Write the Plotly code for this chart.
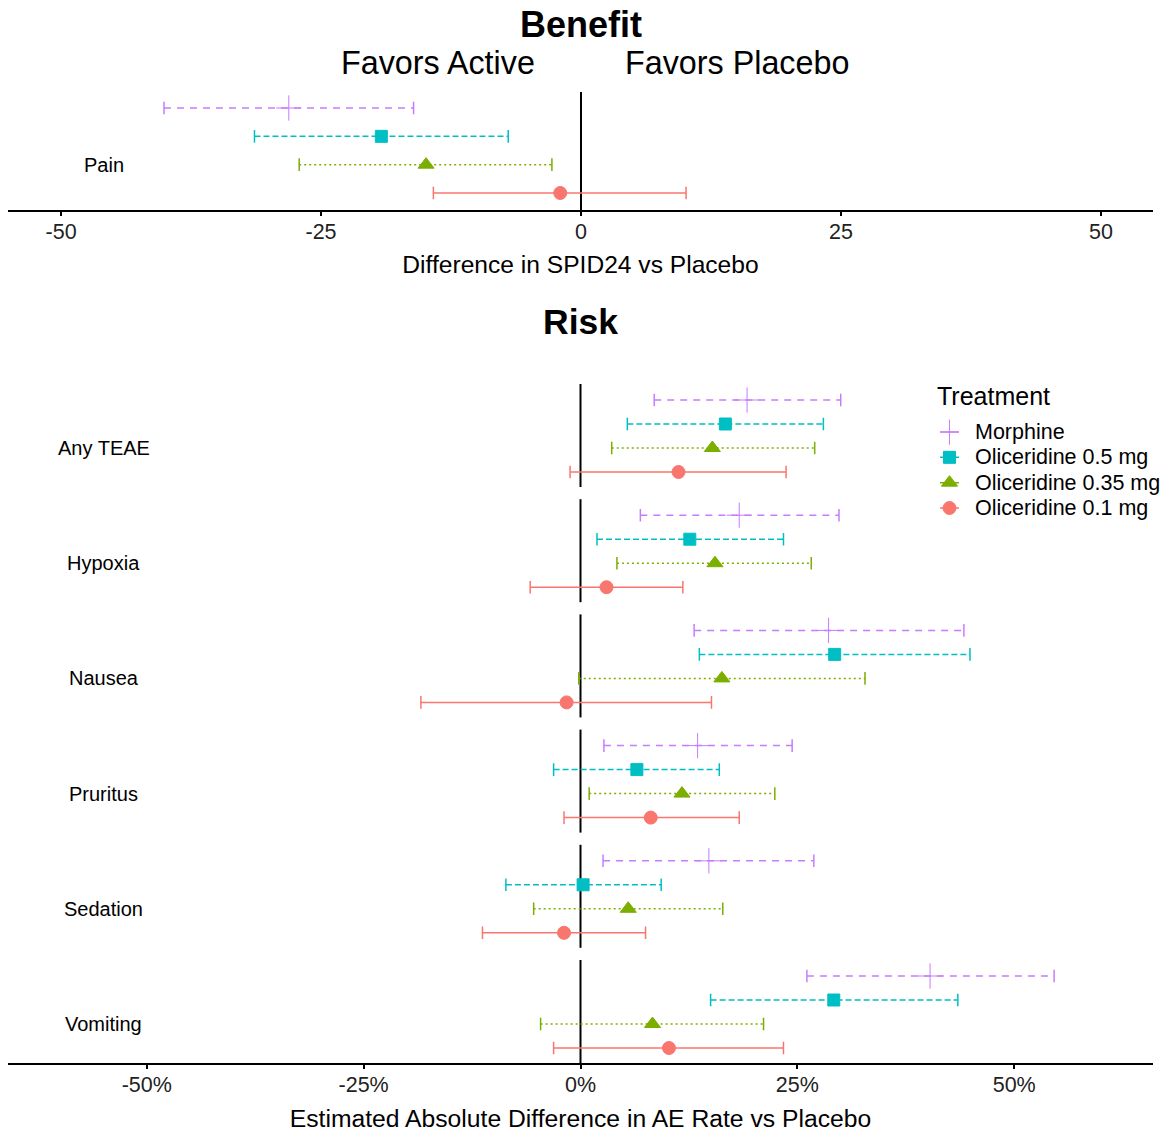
import plotly.graph_objects as go

# ---------------- data ----------------
treatments = ["Morphine", "Oliceridine 0.5 mg", "Oliceridine 0.35 mg", "Oliceridine 0.1 mg"]
colors = ["#C77CFF", "#00BFC4", "#7CAE00", "#F8766D"]
symbols = ["cross-thin-open", "square", "triangle-up", "circle"]
marker_sizes = [18, 12, 14, 13]
dashes = ["7px,6px", "6px,3px", "2px,3px", "solid"]

# Benefit: difference in SPID24 vs placebo
benefit_est = [-28.1, -19.2, -14.9, -2.0]
benefit_lo = [-40.1, -31.4, -27.1, -14.2]
benefit_hi = [-16.1, -7.0, -2.8, 10.1]

# Risk: estimated absolute difference in AE rate vs placebo (%)
outcomes = ["Any TEAE", "Hypoxia", "Nausea", "Pruritus", "Sedation", "Vomiting"]

morphine_est = [19.2, 18.3, 28.6, 13.5, 14.8, 40.3]
morphine_lo = [8.5, 6.9, 13.1, 2.7, 2.6, 26.1]
morphine_hi = [30.0, 29.8, 44.2, 24.4, 26.9, 54.6]

olic05_est = [16.7, 12.6, 29.3, 6.5, 0.3, 29.2]
olic05_lo = [5.4, 1.9, 13.7, -3.1, -8.6, 15.0]
olic05_hi = [28.0, 23.4, 44.9, 16.0, 9.3, 43.5]

olic035_est = [15.2, 15.5, 16.3, 11.7, 5.5, 8.3]
olic035_lo = [3.6, 4.2, -0.2, 1.0, -5.4, -4.6]
olic035_hi = [27.0, 26.6, 32.8, 22.4, 16.4, 21.1]

olic01_est = [11.3, 3.0, -1.6, 8.1, -1.9, 10.2]
olic01_lo = [-1.2, -5.8, -18.4, -1.9, -11.3, -3.1]
olic01_hi = [23.7, 11.8, 15.1, 18.3, 7.5, 23.4]

risk_est = [morphine_est, olic05_est, olic035_est, olic01_est]
risk_lo = [morphine_lo, olic05_lo, olic035_lo, olic01_lo]
risk_hi = [morphine_hi, olic05_hi, olic035_hi, olic01_hi]

benefit_ticks = [-50, -25, 0, 25, 50]
benefit_ticklabels = ["-50", "-25", "0", "25", "50"]
risk_ticks = [-50, -25, 0, 25, 50]
risk_ticklabels = ["-50%", "-25%", "0%", "25%", "50%"]

# ---------------- figure ----------------
W, H = 1166, 1132
PL = 8          # left margin
PW = 1145       # plotting width (x 8 .. 1153)
FONT = "Liberation Sans, Arial, sans-serif"


def py(y):
    return 1 - y / H


def px(x):
    return (x - PL) / PW


def dom(top_px, bot_px):
    return [py(bot_px), py(top_px)]


fig = go.Figure()


def add_panel(xa, ya, est, lo, hi):
    for i, t in enumerate(treatments):
        fig.add_trace(go.Scatter(
            x=[lo[i], hi[i]], y=[t, t], xaxis=xa, yaxis=ya, mode="lines",
            line=dict(color=colors[i], width=1.5, dash=dashes[i]),
            showlegend=False, hoverinfo="skip"))
        fig.add_trace(go.Scatter(
            x=[lo[i], hi[i]], y=[t, t], xaxis=xa, yaxis=ya, mode="markers",
            marker=dict(symbol="line-ns-open", size=9, color=colors[i],
                        line=dict(color=colors[i], width=1.5)),
            showlegend=False, hoverinfo="skip"))
        fig.add_trace(go.Scatter(
            x=[est[i]], y=[t], xaxis=xa, yaxis=ya, mode="markers",
            name=t, showlegend=False,
            marker=dict(symbol=symbols[i], size=marker_sizes[i], color=colors[i],
                        line=dict(color=colors[i], width=1))))


cat_order = treatments[::-1]

add_panel("x", "y", benefit_est, benefit_lo, benefit_hi)

tickfont = dict(size=21.5, color="#222")
layout = dict(
    width=W, height=H,
    margin=dict(l=PL, r=W - PL - PW, t=0, b=0),
    paper_bgcolor="white", plot_bgcolor="white",
    font=dict(family=FONT, color="black"),
    showlegend=False,
    xaxis=dict(domain=[0, 1], anchor="y", range=[-55.1, 55], tickvals=benefit_ticks,
               ticktext=benefit_ticklabels,
               showline=True, linecolor="black", linewidth=2, ticks="outside",
               ticklen=4, tickwidth=1.5, tickcolor="black", showgrid=False, zeroline=False,
               tickfont=tickfont, ticklabelstandoff=-3,
               title=dict(text="Difference in SPID24 vs Placebo", font=dict(size=24.6), standoff=13)),
    yaxis=dict(domain=dom(92, 210), anchor="x", type="category", categoryarray=cat_order,
               categoryorder="array", range=[-0.6, 3.565], visible=False),
)

shapes = [dict(type="line", xref="x", yref="y domain", x0=0, x1=0, y0=0, y1=1,
               line=dict(color="black", width=2), layer="below")]

annotations = [
    dict(text="<b>Benefit</b>", xref="paper", yref="paper", x=0.5, y=py(24),
         showarrow=False, font=dict(size=36), xanchor="center", yanchor="middle"),
    dict(text="Favors Active", xref="paper", yref="paper", x=px(437.5), y=py(63),
         showarrow=False, font=dict(size=32.3), xanchor="center", yanchor="middle"),
    dict(text="Favors Placebo", xref="paper", yref="paper", x=px(737), y=py(63),
         showarrow=False, font=dict(size=32.3), xanchor="center", yanchor="middle"),
    dict(text="<b>Risk</b>", xref="paper", yref="paper", x=0.5, y=py(322),
         showarrow=False, font=dict(size=35.5), xanchor="center", yanchor="middle"),
    dict(text="Pain", xref="paper", yref="y", x=px(103.5), y=1,
         showarrow=False, font=dict(size=20), xanchor="center", yanchor="middle"),
]

n_out = len(outcomes)
for k, outcome in enumerate(outcomes):
    n = k + 2
    xa, ya = f"x{n}", f"y{n}"
    est = [risk_est[i][k] for i in range(4)]
    lo = [risk_lo[i][k] for i in range(4)]
    hi = [risk_hi[i][k] for i in range(4)]
    add_panel(xa, ya, est, lo, hi)
    last = (k == n_out - 1)
    top = 384 + 115.2 * k
    xdef = dict(domain=[0, 1], anchor=ya, range=[-66, 66], tickvals=risk_ticks,
                ticktext=risk_ticklabels, showgrid=False, zeroline=False,
                showline=last, linecolor="black", linewidth=2,
                ticks="outside" if last else "", ticklen=4, tickwidth=1.5, tickcolor="black",
                showticklabels=last, tickfont=tickfont, ticklabelstandoff=-3)
    if last:
        xdef["title"] = dict(text="Estimated Absolute Difference in AE Rate vs Placebo",
                             font=dict(size=24.7), standoff=15)
    layout[f"xaxis{n}"] = xdef
    layout[f"yaxis{n}"] = dict(domain=dom(top, top + 103), anchor=xa, type="category",
                               categoryarray=cat_order, categoryorder="array",
                               range=[-0.625, 3.667], visible=False)
    shapes.append(dict(type="line", xref=xa, yref=f"{ya} domain", x0=0, x1=0, y0=0, y1=1,
                       line=dict(color="black", width=2), layer="below"))
    annotations.append(dict(text=outcome, xref="paper", yref=ya, x=px(103.5), y=1,
                            showarrow=False, font=dict(size=20),
                            xanchor="center", yanchor="middle"))

# ---------------- legend (drawn on its own hidden axes) ----------------
LX, LY = "x8", "y8"
for i, t in enumerate(treatments):
    fig.add_trace(go.Scatter(
        x=[-1, 1], y=[t, t], xaxis=LX, yaxis=LY, mode="lines",
        line=dict(color=colors[i], width=1.5), showlegend=False, hoverinfo="skip"))
    fig.add_trace(go.Scatter(
        x=[0], y=[t], xaxis=LX, yaxis=LY, mode="markers", showlegend=False,
        hoverinfo="skip",
        marker=dict(symbol=symbols[i], size=marker_sizes[i], color=colors[i],
                    line=dict(color=colors[i], width=1))))
    annotations.append(dict(text=t, xref="paper", yref=LY, x=px(973), y=t,
                            showarrow=False, font=dict(size=21.5),
                            xanchor="left", yanchor="middle"))
annotations.append(dict(text="Treatment", xref="paper", yref="paper", x=px(935), y=py(396),
                        showarrow=False, font=dict(size=25),
                        xanchor="left", yanchor="middle"))
layout["xaxis8"] = dict(domain=[px(940), px(959)], anchor=LY, range=[-1, 1], visible=False)
layout["yaxis8"] = dict(domain=dom(432 - 12.65, 508 + 12.65), anchor=LX, type="category",
                        categoryarray=cat_order, categoryorder="array",
                        range=[-0.5, 3.5], visible=False)

layout["shapes"] = shapes
layout["annotations"] = annotations
fig.update_layout(**layout)

fig.write_html("out.html", config={"displayModeBar": False},
               post_script="document.body.style.margin='0';document.body.style.overflow='hidden';")
